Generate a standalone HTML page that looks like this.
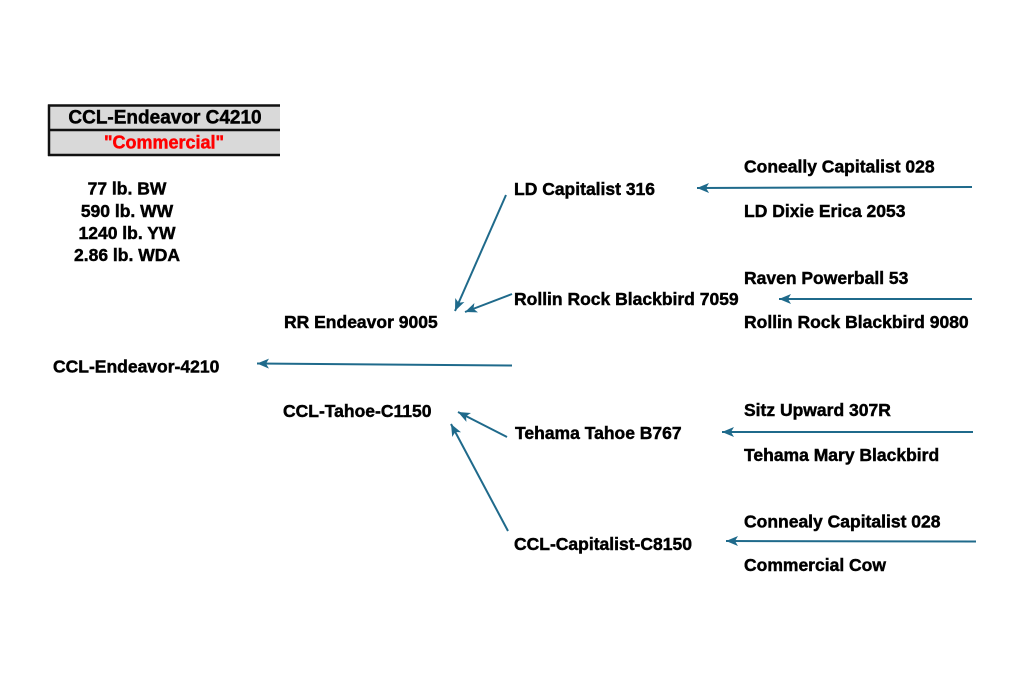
<!DOCTYPE html>
<html>
<head>
<meta charset="utf-8">
<style>
  html,body{margin:0;padding:0;background:#fff;}
  svg{display:block;}
  text{font-family:"Liberation Sans",Arial,sans-serif;font-weight:bold;fill:#000;stroke:#000;stroke-width:0.45;}
</style>
</head>
<body>
<svg width="1024" height="683" viewBox="0 0 1024 683" xmlns="http://www.w3.org/2000/svg">
  <defs>
    <marker id="ah" markerUnits="userSpaceOnUse" markerWidth="14" markerHeight="12" refX="12" refY="5" orient="auto">
      <path d="M0,0 L12,5 L0,10 L3,5 Z" fill="#1f6a8b"/>
    </marker>
  </defs>

  <!-- Title box -->
  <rect x="48" y="105" width="232" height="50" fill="#d9d9d9"/>
  <line x1="48" y1="105.5" x2="280" y2="105.5" stroke="#111" stroke-width="2.5"/>
  <line x1="48" y1="130" x2="280" y2="130" stroke="#111" stroke-width="2.5"/>
  <line x1="48" y1="155" x2="280" y2="155" stroke="#111" stroke-width="2.5"/>
  <line x1="49" y1="104.5" x2="49" y2="156" stroke="#111" stroke-width="2.5"/>
  <text x="165" y="123.5" font-size="19" text-anchor="middle">CCL-Endeavor C4210</text>
  <text x="164" y="148.5" font-size="18" text-anchor="middle" style="fill:#ff0000;stroke:#ff0000">"Commercial"</text>

  <!-- Stats -->
  <text x="127" y="194.5" font-size="17.5" text-anchor="middle">77 lb. BW</text>
  <text x="127" y="217" font-size="17.5" text-anchor="middle">590 lb. WW</text>
  <text x="127" y="239" font-size="17.5" text-anchor="middle">1240 lb. YW</text>
  <text x="127" y="261" font-size="17.5" text-anchor="middle">2.86 lb. WDA</text>

  <!-- Main node -->
  <text x="53" y="372.5" font-size="17.5">CCL-Endeavor-4210</text>

  <!-- Gen 1 -->
  <text x="284" y="328" font-size="17.5">RR Endeavor 9005</text>
  <text x="283" y="417" font-size="17.5">CCL-Tahoe-C1150</text>

  <!-- Gen 2 -->
  <text x="514" y="195" font-size="17.5">LD Capitalist 316</text>
  <text x="514" y="305" font-size="17.5">Rollin Rock Blackbird 7059</text>
  <text x="515" y="439" font-size="17.5">Tehama Tahoe B767</text>
  <text x="514" y="550" font-size="17.5">CCL-Capitalist-C8150</text>

  <!-- Gen 3 -->
  <text x="744" y="172.5" font-size="17.5">Coneally Capitalist 028</text>
  <text x="744" y="217" font-size="17.5">LD Dixie Erica 2053</text>
  <text x="744" y="284" font-size="17.5">Raven Powerball 53</text>
  <text x="744" y="328" font-size="17.5">Rollin Rock Blackbird 9080</text>
  <text x="744" y="416" font-size="17.5">Sitz Upward 307R</text>
  <text x="744" y="461" font-size="17.5">Tehama Mary Blackbird</text>
  <text x="744" y="527.5" font-size="17.5">Connealy Capitalist 028</text>
  <text x="744" y="571" font-size="17.5">Commercial Cow</text>

  <!-- Arrows -->
  <g stroke="#1f6a8b" stroke-width="2" fill="none" marker-end="url(#ah)">
    <line x1="512" y1="365.5" x2="257" y2="363.5"/>
    <line x1="506" y1="195" x2="455" y2="311"/>
    <line x1="512" y1="294" x2="465" y2="312"/>
    <line x1="507" y1="437" x2="458" y2="412"/>
    <line x1="508" y1="531" x2="451" y2="424"/>
    <line x1="972" y1="187" x2="697" y2="188"/>
    <line x1="972" y1="299" x2="779" y2="299"/>
    <line x1="973" y1="432" x2="722" y2="432"/>
    <line x1="976" y1="541.5" x2="726" y2="541"/>
  </g>
</svg>
</body>
</html>
